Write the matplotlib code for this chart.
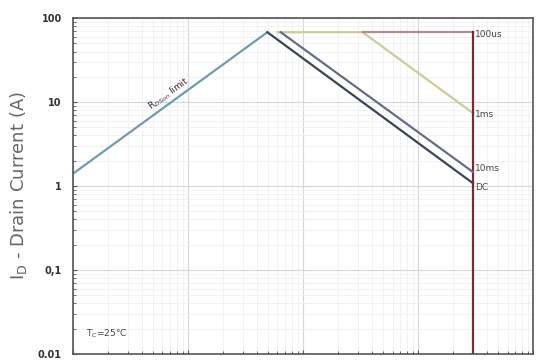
import numpy as np
import matplotlib
matplotlib.use("Agg")
import matplotlib.pyplot as plt

# safe operating area
v_rdson = [0.01, 0.49]
i_rdson = [1.4, 68]
v_dc = [0.49, 30]
i_dc = [68, 1.08]
v_10ms = [0.64, 30]
i_10ms = [68, 1.47]
v_1ms = [0.6, 3.3, 30]
i_1ms = [68, 68, 7.4]
v_100us = [3.3, 30, 30]
i_100us = [68, 68, 0.01]

curve_labels = ["100us", "1ms", "10ms", "DC"]
label_y = [64, 7.2, 1.6, 0.95]

fig = plt.figure(figsize=(5.44, 3.63), dpi=100)
ax = fig.add_axes([0.134, 0.025, 0.846, 0.925])

ax.set_xscale("log")
ax.set_yscale("log")
ax.set_xlim(0.01, 100)
ax.set_ylim(0.01, 100)

ax.grid(which="major", color="#d6d6d6", lw=0.8)
ax.grid(which="minor", color="#f0f0f0", lw=0.6)
ax.set_axisbelow(True)

ax.plot(v_rdson, i_rdson, color="#6f9bb5", lw=1.6)
ax.plot(v_1ms, i_1ms, color="#cdcc96", lw=1.6)
ax.plot(v_100us[:2], i_100us[:2], color="#b88a8a", lw=1.6)
ax.plot(v_100us[1:], i_100us[1:], color="#7a2a30", lw=1.6)
ax.plot(v_10ms, i_10ms, color="#6a6a8c", lw=1.6)
ax.plot(v_dc, i_dc, color="#3c4558", lw=1.6)

for name, y in zip(curve_labels, label_y):
    ax.text(31.5, y, name, fontsize=6.5, color="#444444", va="center", ha="left")

ax.text(0.068, 12.5, "R$_{DSon}$ limit", fontsize=6.5, color="#333333",
        rotation=36, ha="center", va="center")
ax.text(0.013, 0.016, "T$_C$=25°C", fontsize=6.5, color="#444444")

ax.set_xticks([0.01, 0.1, 1, 10, 100])
ax.set_xticklabels(["0.01", "0.1", "1", "10", "100"])
ax.set_yticks([0.01, 0.1, 1, 10, 100])
ax.set_yticklabels(["0.01", "0,1", "1", "10", "100"])
ax.tick_params(which="both", direction="in", color="#555555")
ax.tick_params(which="major", length=3, labelsize=7, pad=8)
ax.tick_params(which="minor", length=2)
for lab in ax.get_xticklabels() + ax.get_yticklabels():
    lab.set_fontweight("bold")
    lab.set_color("#333333")

for s in ax.spines.values():
    s.set_color("#555555")
    s.set_linewidth(1.2)

ax.set_ylabel("I$_\\mathrm{D}$ - Drain Current (A)", fontsize=13, color="#666666", labelpad=6)

fig.savefig("out.png", dpi=100)
